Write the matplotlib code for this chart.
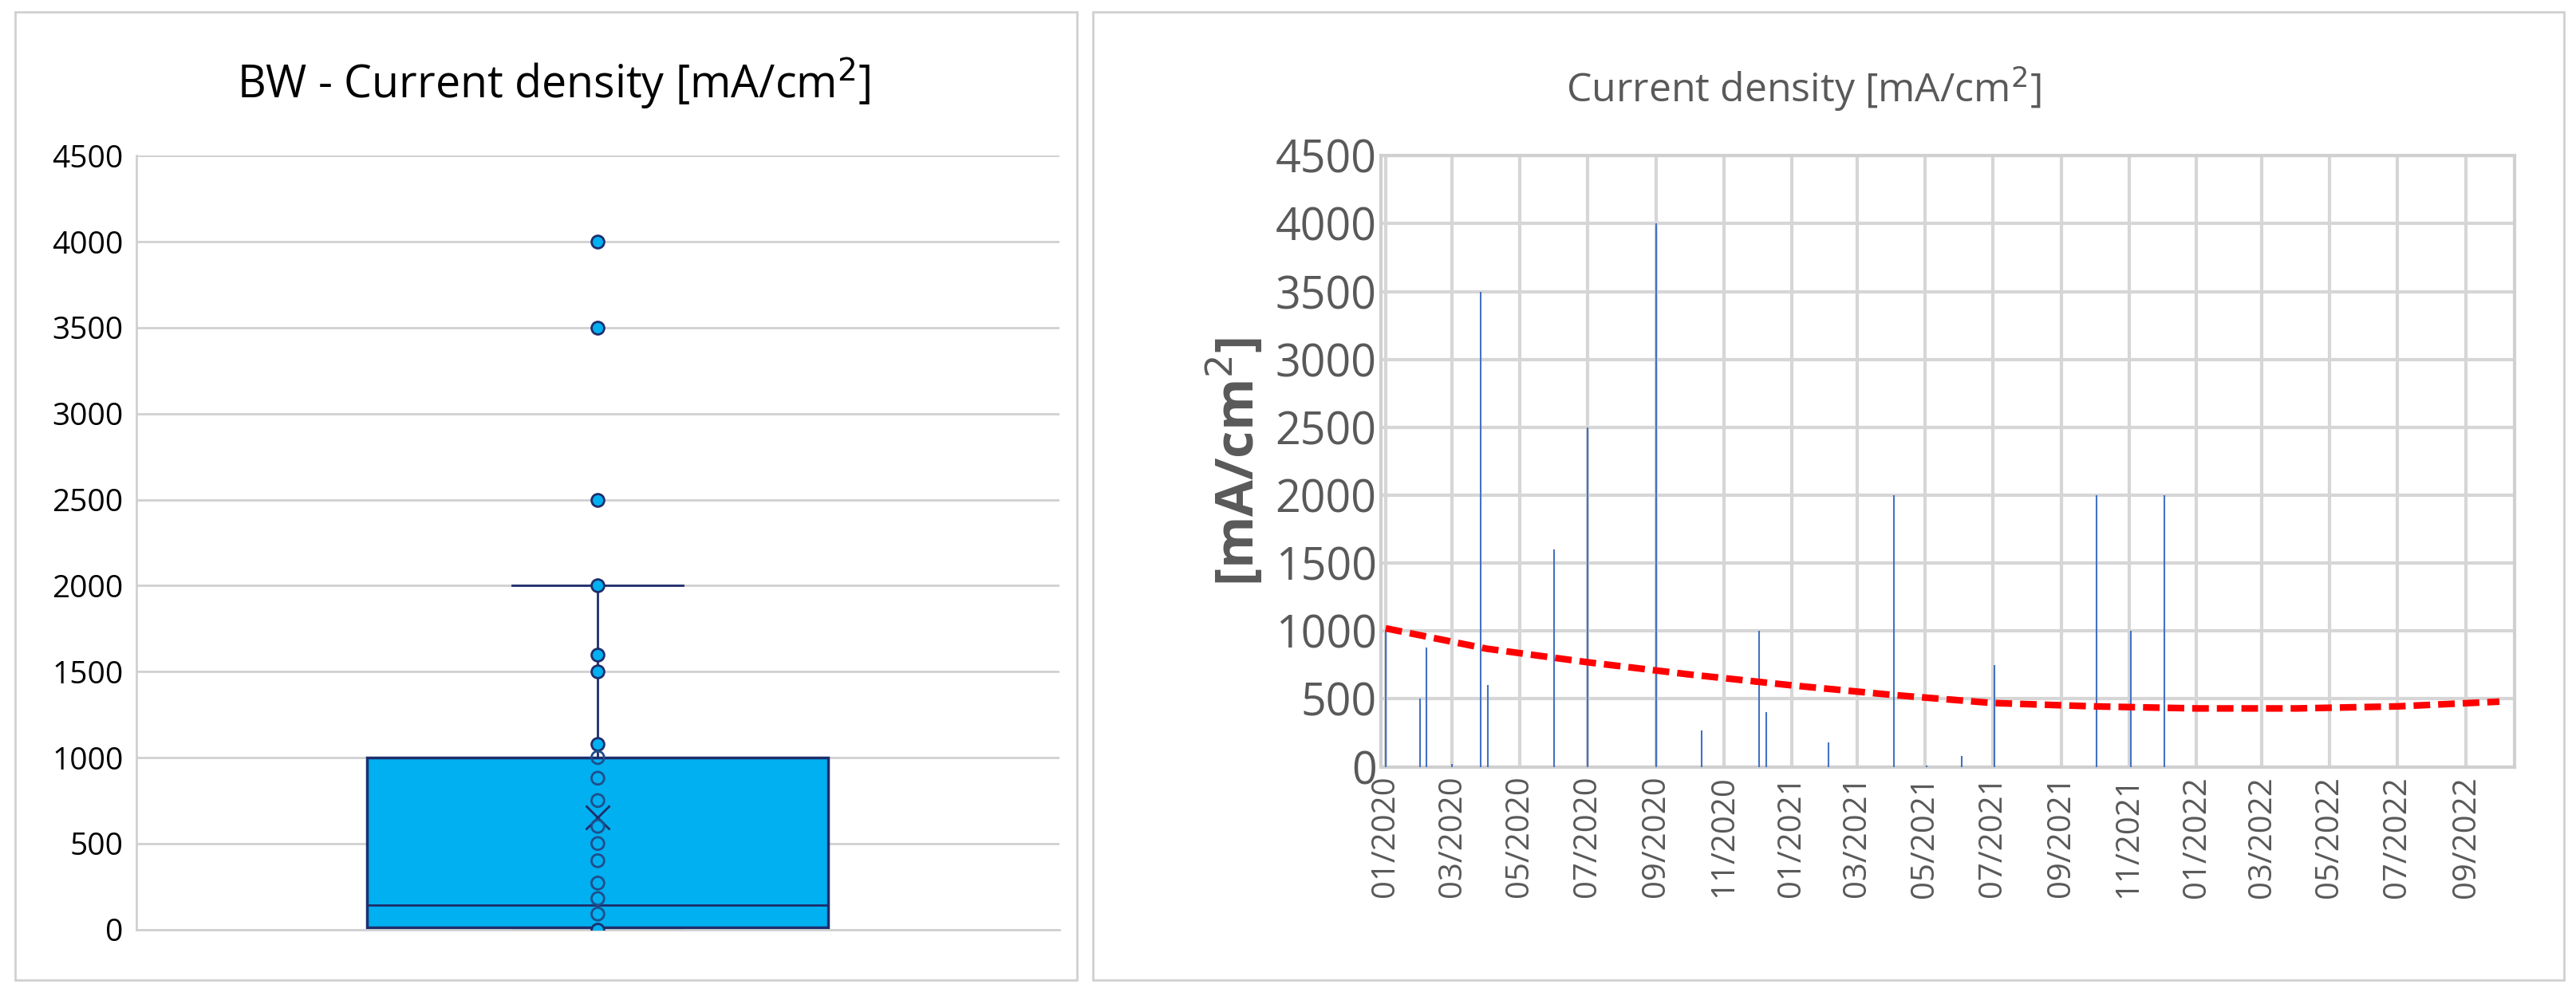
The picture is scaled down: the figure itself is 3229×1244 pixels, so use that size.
import numpy as np
import matplotlib.pyplot as plt
import matplotlib.dates as mdates
from matplotlib.patches import Rectangle
import datetime as dt

plt.rcParams['font.family'] = ['Open Sans', 'DejaVu Sans']

# left panel: box plot stats and shown points
box_q1, box_med, box_q3 = 10, 140, 1000
box_low, box_high, box_mean = 0, 2000, 650
box_points = [0, 90, 180, 270, 400, 500, 600, 750, 880, 1000, 1080, 1500, 1600, 2000, 2500, 3500, 4000]

# right panel: measurements
dates = ['2020-01-01', '2020-02-01', '2020-02-07', '2020-03-01', '2020-03-27', '2020-04-02',
         '2020-06-01', '2020-07-01', '2020-09-01', '2020-10-12', '2020-12-03', '2020-12-09',
         '2021-02-03', '2021-04-03', '2021-05-03', '2021-06-03', '2021-07-03', '2021-10-03',
         '2021-11-03', '2021-12-03']
values = [1000, 500, 880, 20, 3500, 600, 1600, 2500, 4000, 270, 1000, 400,
          180, 2000, 10, 80, 750, 2000, 1000, 2000]
trend_dates = ['2020-01-01', '2020-04-01', '2020-07-01', '2020-10-01', '2021-01-01', '2021-04-01',
               '2021-07-01', '2021-10-01', '2022-01-01', '2022-04-01', '2022-07-01', '2022-10-01']
trend_vals = [1020, 870, 770, 680, 600, 530, 470, 445, 430, 430, 445, 480]

fig = plt.figure(figsize=(32.3, 12.44), dpi=100)
for x0, w in [(0.006, 0.412), (0.424, 0.571)]:
    fig.patches.append(Rectangle((x0, 0.012), w, 0.976, transform=fig.transFigure,
                                 fill=False, edgecolor='#d0d0d0', lw=2))

grey = '#595959'
ax = fig.add_axes([0.053, 0.063, 0.358, 0.78])
ax.bxp([dict(q1=box_q1, med=box_med, q3=box_q3, whislo=box_low, whishi=box_high,
             mean=box_mean, fliers=[])], positions=[1], widths=1.0, patch_artist=True,
       showmeans=True, meanline=False,
       boxprops=dict(facecolor='#00b0f0', edgecolor='#1f2d6b', lw=2.5),
       medianprops=dict(color='#1f2d6b', lw=2),
       whiskerprops=dict(color='#1f2d6b', lw=2),
       capprops=dict(color='#1f2d6b', lw=2), capwidths=0.37,
       meanprops=dict(marker='x', markeredgecolor='#1f2d6b', markersize=22, mew=2))
inside = [v for v in box_points if box_q1 <= v <= box_q3 and v > 0]
outside = [v for v in box_points if v not in inside]
ax.scatter([1] * len(outside), outside, s=130, color='#00b0f0', edgecolor='#1f2d6b', lw=2, zorder=5)
ax.scatter([1] * len(inside), inside, s=130, facecolor='none', edgecolor='#1f4e8c', lw=2, zorder=5)
ax.set_xlim(0, 2)
ax.set_ylim(0, 4500)
ax.set_yticks(range(0, 4501, 500))
ax.set_xticks([])
ax.grid(axis='y', color='#d0d0d0', lw=2)
ax.set_axisbelow(True)
for s in ['top', 'right']:
    ax.spines[s].set_visible(False)
ax.spines['left'].set_color('#d0d0d0')
ax.spines['bottom'].set_color('#d0d0d0')
ax.spines['left'].set_linewidth(2)
ax.spines['bottom'].set_linewidth(2)
ax.tick_params(axis='y', labelsize=28, length=0, pad=12)
fig.text(0.215, 0.915, 'BW - Current density [mA/cm$^2$]', ha='center', va='center', fontsize=40)

ax2 = fig.add_axes([0.536, 0.227, 0.44, 0.616])
d = [dt.datetime.fromisoformat(s) for s in dates]
ax2.vlines(d, 0, values, color='#4472c4', lw=1.5, zorder=3)
td = [dt.datetime.fromisoformat(s) for s in trend_dates]
ax2.plot(td, trend_vals, color='red', lw=6, ls=(0, (2.5, 1.2)), zorder=4)
ticks = [dt.datetime(2020 + (m - 1) // 12, (m - 1) % 12 + 1, 1) for m in range(1, 34, 2)]
ax2.set_xticks(ticks)
ax2.xaxis.set_major_formatter(mdates.DateFormatter('%m/%Y'))
ax2.set_xlim(dt.datetime(2019, 12, 28), dt.datetime(2022, 10, 15))
ax2.set_ylim(0, 4500)
ax2.set_yticks(range(0, 4501, 500))
ax2.grid(color='#d6d6d6', lw=3)
ax2.set_axisbelow(True)
for s in ax2.spines.values():
    s.set_color('#d0d0d0')
    s.set_linewidth(3)
ax2.tick_params(axis='y', labelsize=40, labelcolor=grey, length=0, pad=4)
ax2.tick_params(axis='x', labelsize=29, labelcolor=grey, rotation=90, length=0, pad=8)
ax2.set_ylabel('[mA/cm$^2$]', fontsize=48, fontweight='bold', color=grey, labelpad=8)
fig.text(0.7, 0.91, 'Current density [mA/cm$^2$]', ha='center', va='center', fontsize=36, color=grey)

fig.savefig('out.png', dpi=100)
